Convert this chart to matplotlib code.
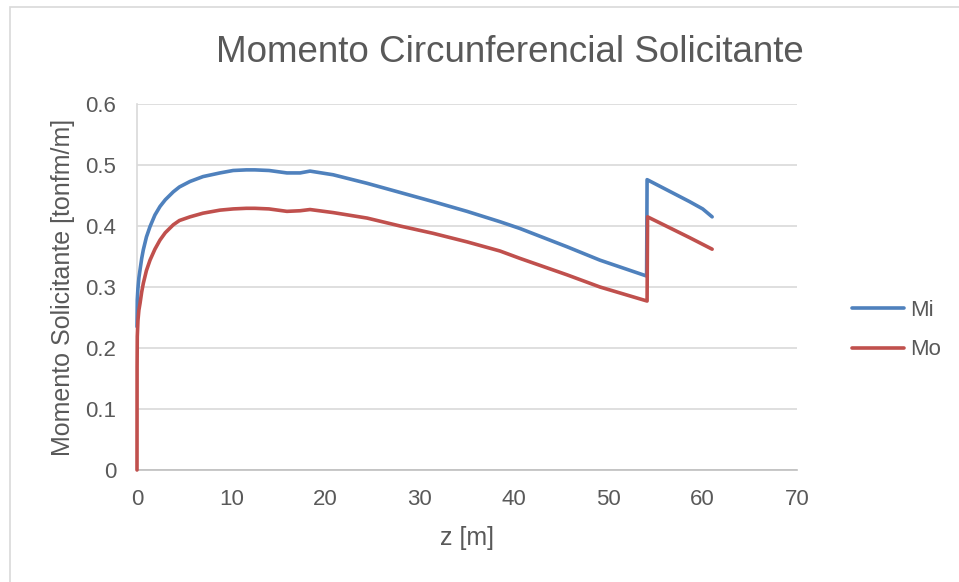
import matplotlib.pyplot as plt
from matplotlib.patches import Rectangle

plt.rcParams['font.family'] = ['Liberation Sans', 'DejaVu Sans']

# valores
z_mi = [0, 0.03, 0.1, 0.2, 0.32, 0.5, 0.67, 1.0, 1.38, 1.9, 2.44, 3.0, 3.85, 4.5, 5.62, 7.0,
        8.8, 10.2, 11.6, 12.5, 14.0, 15.9, 17.3, 18.35, 20.8, 24.4, 27.9, 31.4, 35.0, 38.5,
        40.6, 45.6, 49.1, 54.05, 54.1, 58.6, 60.0, 61.0]
mi = [0.235, 0.279, 0.298, 0.315, 0.328, 0.347, 0.361, 0.382, 0.399, 0.418, 0.432, 0.443,
      0.456, 0.464, 0.473, 0.481, 0.487, 0.491, 0.492, 0.492, 0.491, 0.487, 0.487, 0.490,
      0.484, 0.470, 0.455, 0.440, 0.424, 0.407, 0.396, 0.366, 0.344, 0.318, 0.476, 0.440,
      0.428, 0.415]

z_mo = [0, 0.01, 0.03, 0.1, 0.2, 0.32, 0.5, 0.67, 1.0, 1.38, 1.9, 2.44, 3.0, 3.85, 4.5, 5.62,
        7.0, 8.8, 10.2, 11.6, 12.5, 14.0, 15.9, 17.3, 18.35, 20.8, 24.4, 27.9, 31.4, 35.0,
        38.5, 40.6, 45.6, 49.1, 54.1, 54.15, 58.6, 61.0]
mo = [0, 0.17, 0.219, 0.245, 0.262, 0.273, 0.292, 0.306, 0.327, 0.344, 0.362, 0.377, 0.389,
      0.402, 0.409, 0.415, 0.421, 0.426, 0.428, 0.429, 0.429, 0.428, 0.424, 0.425, 0.427,
      0.422, 0.413, 0.400, 0.388, 0.374, 0.359, 0.347, 0.320, 0.300, 0.277, 0.415, 0.381,
      0.362]

fig = plt.figure(figsize=(9.59, 5.82), dpi=100)
ax = fig.add_axes([137/959, 1 - 470/582, 660/959, 366/582])

ax.plot(z_mi, mi, color='#4f81bd', lw=2.6, label='Mi', solid_capstyle='round',
        solid_joinstyle='round', clip_on=False, zorder=3)
ax.plot(z_mo, mo, color='#c0504d', lw=2.6, label='Mo', solid_capstyle='round',
        solid_joinstyle='round', clip_on=False, zorder=3)

ax.set_xlim(0, 70)
ax.set_ylim(0, 0.6)
ax.set_xticks(range(0, 71, 10))
ax.set_yticks([0, 0.1, 0.2, 0.3, 0.4, 0.5, 0.6])
ax.set_yticklabels(['0', '0.1', '0.2', '0.3', '0.4', '0.5', '0.6'])
ax.grid(axis='y', color='#d9d9d9', lw=1.2)
ax.set_axisbelow(True)
for s in ['top', 'right']:
    ax.spines[s].set_visible(False)
ax.spines['bottom'].set_color('#bfbfbf')
ax.spines['left'].set_color('#d9d9d9')
ax.spines['bottom'].set_linewidth(1.2)
ax.spines['left'].set_linewidth(1.2)
ax.tick_params(length=0, labelsize=16, labelcolor='#595959')
ax.tick_params(axis='x', pad=14)
ax.tick_params(axis='y', pad=15)

ax.set_xlabel('z [m]', fontsize=18, color='#595959', labelpad=11)
ax.set_ylabel('Momento Solicitante [tonfm/m]', fontsize=18, color='#595959', labelpad=7)

fig.text(510/959, 1 - 53/582, 'Momento Circunferencial Solicitante', fontsize=26.5,
         color='#595959', ha='center', va='center')

fig.legend(loc='center left', bbox_to_anchor=(852/959, 1 - 330/582), frameon=False,
           fontsize=16, handlelength=2.35, handletextpad=0.25, labelspacing=0.85,
           borderpad=0, borderaxespad=0, labelcolor='#595959')

fig.patches.append(Rectangle((10/959, -0.02), 1.0, 1.02 - 7/582, transform=fig.transFigure,
                             fill=False, edgecolor='#d9d9d9', lw=1.2))

fig.savefig('out.png', dpi=100)
